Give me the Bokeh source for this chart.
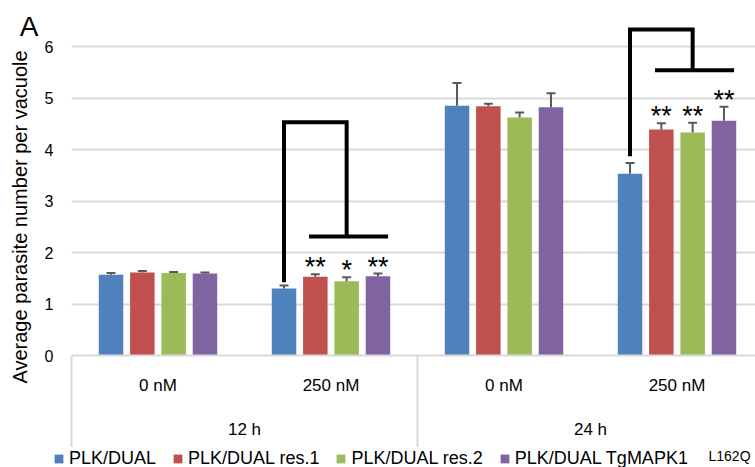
import numpy as np
from bokeh.plotting import figure
from bokeh.layouts import column
from bokeh.models import (Range1d, FixedTicker, LinearAxis, Legend, LegendItem,
                          ColumnDataSource, Label)
from bokeh.embed import file_html
from bokeh.resources import INLINE
from bokeh.core.properties import value

# ---------------- data ----------------
doses = ["0 nM", "250 nM", "0 nM", "250 nM"]
times = ["12 h", "24 h"]
series = ["PLK/DUAL", "PLK/DUAL res.1", "PLK/DUAL res.2", "PLK/DUAL TgMAPK1"]
series_note = "L162Q"
colors = ["#4f81bd", "#c0504d", "#9bbb59", "#8064a2"]

# values per series, in order of the four dose/time categories
plk_dual      = [1.57, 1.30, 4.85, 3.53]
plk_dual_res1 = [1.61, 1.53, 4.84, 4.39]
plk_dual_res2 = [1.60, 1.44, 4.62, 4.33]
plk_dual_mapk = [1.59, 1.54, 4.82, 4.56]

err_dual      = [0.03, 0.06, 0.44, 0.21]
err_res1      = [0.03, 0.05, 0.05, 0.12]
err_res2      = [0.02, 0.08, 0.10, 0.19]
err_mapk      = [0.02, 0.05, 0.27, 0.27]

stars_dual    = ["", "", "", ""]
stars_res1    = ["", "**", "", "**"]
stars_res2    = ["", "*", "", "**"]
stars_mapk    = ["", "**", "", "**"]

# significance brackets (for 12 h / 250 nM and 24 h / 250 nM)
bracket_cat  = [1, 3]
bracket_low  = [1.42, 3.87]
bracket_top  = [4.53, 6.33]
bracket_mid  = [2.31, 5.54]

y_ticks = [0, 1, 2, 3, 4, 5, 6]
panel_letter = "A"
y_title = "Average parasite number per vacuole"

values = [plk_dual, plk_dual_res1, plk_dual_res2, plk_dual_mapk]
errors = [err_dual, err_res1, err_res2, err_mapk]
stars = [stars_dual, stars_res1, stars_res2, stars_mapk]

FONT = "Liberation Sans"
LETTER_Y = 6.38   # vertical anchor of the panel letter (y units)
TITLE_Y = 2.69    # vertical centre of the y title (y units)

# ---------------- main figure ----------------
PX_PER_CAT = 173.0
frame_w = 684
p = figure(width=755, height=447, output_backend="svg", toolbar_location=None,
           x_range=Range1d(0, frame_w / PX_PER_CAT), y_range=Range1d(0, 6.505),
           min_border_left=71, min_border_right=0, min_border_top=20, min_border_bottom=92,
           outline_line_color=None, background_fill_color="white")
p.frame_align = False

p.xaxis.visible = False
p.xgrid.visible = False

# y axis
p.yaxis.ticker = FixedTicker(ticks=y_ticks)
p.yaxis.axis_line_color = None
p.yaxis.major_tick_line_color = None
p.yaxis.minor_tick_line_color = None
p.yaxis.major_tick_out = 0
p.yaxis.major_tick_in = 0
p.yaxis.major_label_standoff = 18
p.yaxis.major_label_text_font = FONT
p.yaxis.major_label_text_font_size = "16px"
p.yaxis.major_label_text_color = "black"
p.ygrid.ticker = FixedTicker(ticks=y_ticks[1:])
p.ygrid.grid_line_color = "#d9d9d9"
p.ygrid.grid_line_width = 2

# bars
pitch = 0.181
offsets = [-1.5 * pitch, -0.5 * pitch, 0.5 * pitch, 1.5 * pitch]
centers = np.arange(len(doses)) + 0.5
bar_w = 0.1416
cap_w = 0.052

for i in range(4):
    xs = centers + offsets[i]
    v = np.array(values[i])
    e = np.array(errors[i])
    src = ColumnDataSource(dict(x=xs, top=v, up=v + e, x0=xs - cap_w / 2, x1=xs + cap_w / 2,
                                star=stars[i]))
    p.vbar(x="x", top="top", width=bar_w, bottom=0, source=src,
           fill_color=colors[i], line_color=None)
    p.segment(x0="x", y0="top", x1="x", y1="up", source=src, line_color="#595959", line_width=2)
    p.segment(x0="x0", y0="up", x1="x1", y1="up", source=src, line_color="#595959", line_width=2)
    p.text(x="x", y="up", text="star", source=src, text_align="center",
           text_baseline="alphabetic", y_offset=-7, text_font=value(FONT),
           text_font_size="27px", text_color="black")

# brackets
bx, by = [], []
for k in range(len(bracket_cat)):
    c = bracket_cat[k] + 0.5
    xl = c + offsets[0]
    xr = c + offsets[2]
    bx.append([xl, xl, xr, xr])
    by.append([bracket_low[k], bracket_top[k], bracket_top[k], bracket_mid[k]])
    bx.append([c - 0.127, c + 0.33])
    by.append([bracket_mid[k], bracket_mid[k]])
p.multi_line(xs=bx, ys=by, line_color="black", line_width=4, line_join="miter")

# category axis (doses) with separator ticks (minor ticks)
ax1 = LinearAxis(ticker=FixedTicker(ticks=list(centers), minor_ticks=[0, 2, 4]),
                 major_label_overrides={float(c): d for c, d in zip(centers, doses)})
ax1.axis_line_color = "#d9d9d9"
ax1.axis_line_width = 2
ax1.major_tick_line_color = None
ax1.major_tick_out = 0
ax1.major_tick_in = 0
ax1.minor_tick_out = 92
ax1.minor_tick_in = 0
ax1.minor_tick_line_color = "#d9d9d9"
ax1.minor_tick_line_width = 2
ax1.major_label_standoff = -72
ax1.major_label_text_font = FONT
ax1.major_label_text_font_size = "17px"
ax1.major_label_text_color = "black"
p.add_layout(ax1, "below")

# time axis
ax2 = LinearAxis(ticker=FixedTicker(ticks=[1, 3], minor_ticks=[]),
                 major_label_overrides={1: times[0], 3: times[1]})
ax2.axis_line_color = None
ax2.major_tick_line_color = None
ax2.minor_tick_line_color = None
ax2.major_tick_out = 0
ax2.major_label_standoff = 22
ax2.major_label_text_font = FONT
ax2.major_label_text_font_size = "17px"
ax2.major_label_text_color = "black"
p.add_layout(ax2, "below")

# panel letter on an extra left axis
ax4 = LinearAxis(ticker=FixedTicker(ticks=[LETTER_Y], minor_ticks=[]),
                 major_label_overrides={LETTER_Y: panel_letter})
ax4.axis_line_color = None
ax4.major_tick_line_color = None
ax4.minor_tick_line_color = None
ax4.major_tick_out = 0
ax4.major_tick_in = 0
ax4.major_label_standoff = 3
ax4.major_label_text_font = FONT
ax4.major_label_text_font_size = "28px"
ax4.major_label_text_color = "black"
p.add_layout(ax4, "left")

# y title as a vertical label of another left axis
ax5 = LinearAxis(ticker=FixedTicker(ticks=[TITLE_Y], minor_ticks=[]),
                 major_label_overrides={TITLE_Y: y_title})
ax5.axis_line_color = None
ax5.major_tick_line_color = None
ax5.minor_tick_line_color = None
ax5.major_tick_out = 0
ax5.major_tick_in = 0
ax5.major_label_orientation = "vertical"
ax5.major_label_standoff = -15
ax5.major_label_text_font = FONT
ax5.major_label_text_font_size = "20px"
ax5.major_label_text_color = "black"
p.add_layout(ax5, "left")

# ---------------- legend strip ----------------
p2 = figure(width=755, height=20, output_backend="svg", toolbar_location=None,
            x_range=Range1d(0, 755), y_range=Range1d(0, 20),
            min_border_left=0, min_border_right=0, min_border_top=0, min_border_bottom=0,
            outline_line_color=None)
p2.frame_align = False
p2.xaxis.visible = False
p2.yaxis.visible = False
p2.grid.visible = False
swatches = [p2.vbar(x=np.array([np.nan]), top=np.array([np.nan]), width=1,
                    fill_color=colors[i], line_color=None) for i in range(4)]
legend = Legend(items=[LegendItem(label=series[i], renderers=[swatches[i]]) for i in range(4)],
                orientation="horizontal", location=(53, -2), padding=0, margin=0,
                spacing=16, glyph_width=11, glyph_height=11, label_standoff=5, label_height=16,
                label_text_font=FONT, label_text_font_size="18px",
                label_text_color="black", border_line_color=None, background_fill_alpha=0)
p2.add_layout(legend, "center")
p2.add_layout(Label(x=708, y=11.5, x_units="screen", y_units="screen", text=series_note,
                    text_font=FONT, text_font_size="14px", text_color="black",
                    text_baseline="alphabetic"))

layout = column(p, p2, spacing=0)
open("out.html", "w").write(file_html(layout, INLINE))
